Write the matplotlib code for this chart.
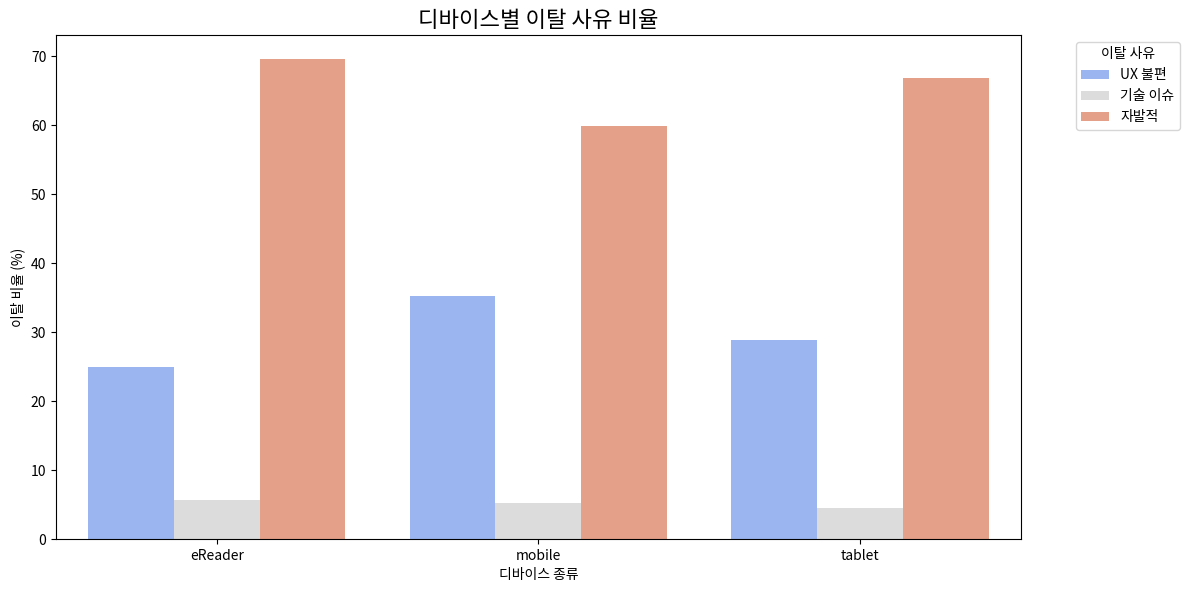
import numpy as np
import pandas as pd
import matplotlib
matplotlib.use("Agg")
import matplotlib.pyplot as plt
import seaborn as sns

devices = ["eReader", "mobile", "tablet"]
reasons = ["UX 불편", "기술 이슈", "자발적"]
ux_values = [25.0, 35.3, 28.9]
tech_values = [5.7, 5.2, 4.5]
self_values = [69.6, 59.9, 66.8]

df = pd.DataFrame({
    "device": devices * 3,
    "reason": [reasons[0]] * 3 + [reasons[1]] * 3 + [reasons[2]] * 3,
    "ratio": ux_values + tech_values + self_values,
})

plt.rcParams['font.family'] = ['Noto Sans CJK KR', 'DejaVu Sans']
plt.rcParams['axes.unicode_minus'] = False

fig, ax = plt.subplots(figsize=(11.91, 5.9), dpi=100)
sns.barplot(data=df, x="device", y="ratio", hue="reason", hue_order=reasons,
            palette="coolwarm", ax=ax)

ax.set_title("디바이스별 이탈 사유 비율", fontsize=16)
ax.set_xlabel("디바이스 종류")
ax.set_ylabel("이탈 비율 (%)")
ax.legend(title="이탈 사유", bbox_to_anchor=(1.05, 1), loc="upper left")

plt.subplots_adjust(left=0.047, right=0.857, bottom=0.0864, top=0.9407)
plt.savefig("out.png", dpi=100)
